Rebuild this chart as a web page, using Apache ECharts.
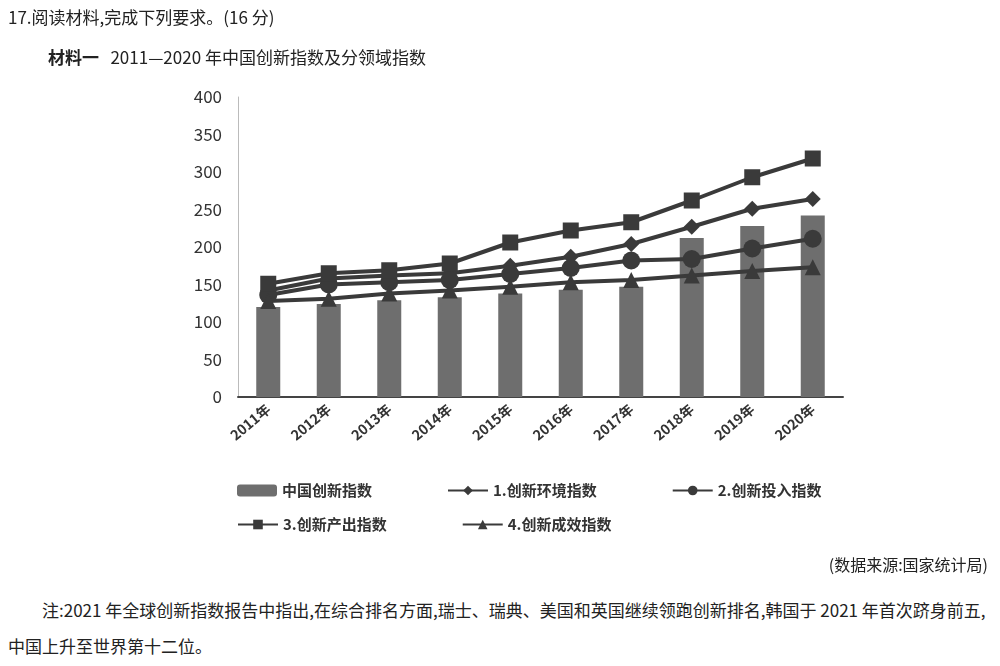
<!DOCTYPE html><html><head><meta charset="utf-8">
<script src="https://cdn.jsdelivr.net/npm/echarts@6/dist/echarts.min.js"></script>
<style>body{margin:0;background:#fff;font-family:"Noto Sans CJK SC";}
#t{position:absolute;left:8px;top:4px;font-size:17px;color:#222}
#t2{position:absolute;left:48px;top:44px;font-size:17px;color:#222}
#src{position:absolute;right:12px;top:552px;font-size:16px;color:#222}
#n{position:absolute;left:8px;top:592px;font-size:17px;color:#222;line-height:36px;text-indent:2em;width:980px}
#c{position:absolute;left:0;top:0;width:1000px;height:560px}</style></head><body>
<div id="c"></div>
<div id="t">17.阅读材料,完成下列要求。(16 分)</div>
<div id="t2"><b>材料一</b>&nbsp;&nbsp;&nbsp;2011—2020 年中国创新指数及分领域指数</div>
<div id="src">(数据来源:国家统计局)</div>
<div id="n">注:2021 年全球创新指数报告中指出,在综合排名方面,瑞士、瑞典、美国和英国继续领跑创新排名,韩国于 2021 年首次跻身前五,中国上升至世界第十二位。</div>
<script>
const categories=['2011年','2012年','2013年','2014年','2015年','2016年','2017年','2018年','2019年','2020年'];
const chinaIndex=[120,124,129,133,138,143,147,212,228,242];
const envIndex=[142,158,162,165,175,187,204,227,251,264];
const inputIndex=[136,150,153,156,164,172,182,184,198,211];
const outputIndex=[151,165,169,178,206,222,233,262,293,318];
const effectIndex=[128,131,138,142,147,153,156,162,168,173];
const c=echarts.init(document.getElementById('c'));
const ln=(name,data,sym,size)=>({name,type:'line',data,symbol:sym,symbolSize:size,lineStyle:{color:'#3a3a3a',width:4},itemStyle:{color:'#3a3a3a'}});
const lg=(top,data)=>({top,left:232,itemGap:75,data,textStyle:{fontSize:15,fontWeight:'bold',color:'#333'},itemWidth:40,itemHeight:12});
c.setOption({animation:false,textStyle:{fontFamily:'Noto Sans CJK SC'},
grid:{left:238,right:157,top:97,bottom:163},
xAxis:{type:'category',data:categories,axisTick:{show:false},axisLine:{lineStyle:{color:'#444',width:2}},
 axisLabel:{rotate:40,fontWeight:'bold',fontSize:14,color:'#333',margin:10}},
yAxis:{type:'value',min:0,max:400,interval:50,splitLine:{show:false},axisLine:{show:true,lineStyle:{color:'#bbb'}},
 axisLabel:{fontSize:17,color:'#333',margin:16}},
legend:[lg(478,['中国创新指数','1.创新环境指数','2.创新投入指数']),lg(512,['3.创新产出指数','4.创新成效指数'])],
series:[{name:'中国创新指数',type:'bar',data:chinaIndex,barWidth:24,itemStyle:{color:'#6e6e6e'}},
ln('1.创新环境指数',envIndex,'diamond',16),ln('2.创新投入指数',inputIndex,'circle',18),
ln('3.创新产出指数',outputIndex,'rect',16),ln('4.创新成效指数',effectIndex,'triangle',16)]});
</script></body></html>
